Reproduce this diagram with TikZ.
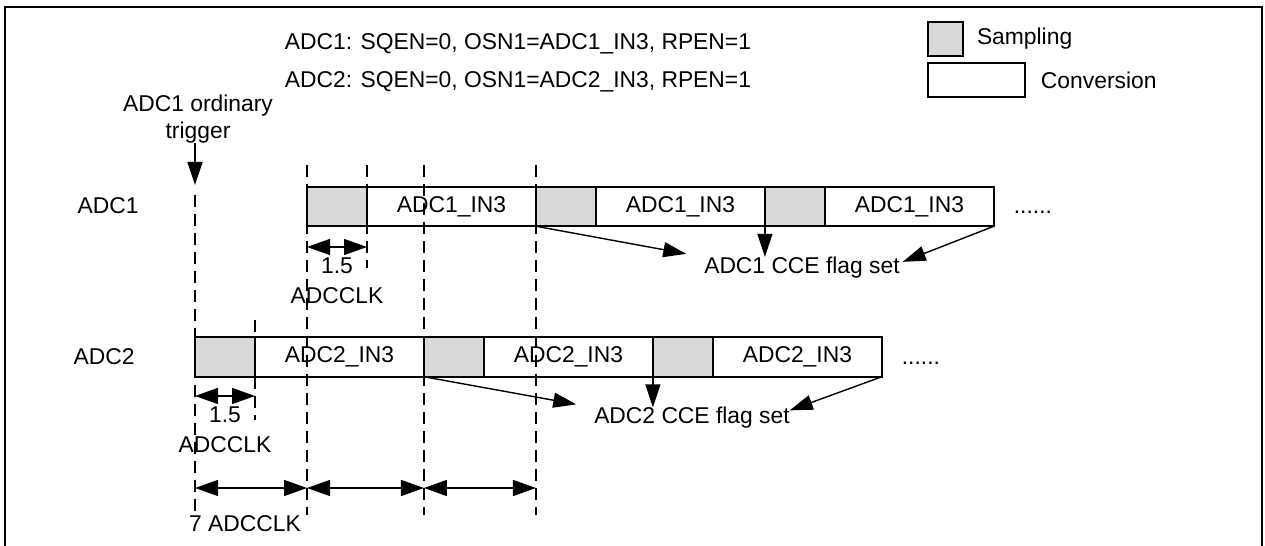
\documentclass[tikz,border=0pt]{standalone}
\usepackage{fontspec}
\setmainfont{Liberation Sans}
\usepackage{tikz}
\usepackage{xcolor}
\usetikzlibrary{positioning, calc, arrows.meta}

\definecolor{sampgray}{HTML}{D9D9D9}

\begin{document}
\begin{tikzpicture}[x=0.02cm, y=-0.02cm,
  every node/.style={font=\fontsize{13}{17}\selectfont, inner sep=0pt, outer sep=0pt},
  samp/.style={draw, line width=1pt, fill=sampgray, minimum width=1.2cm, minimum height=0.79cm},
  conv/.style={draw, line width=1pt, fill=white, minimum width=3.38cm, minimum height=0.79cm},
  guide/.style={line width=0.8pt, dash pattern=on 6.8pt off 4pt},
  flagarr/.style={-{Triangle[length=0.46cm, width=0.3cm]}, line width=0.8pt},
  dimarr/.style={{Triangle[length=0.46cm, width=0.32cm]}-{Triangle[length=0.46cm, width=0.32cm]}, line width=0.8pt}]
  \useasboundingbox (0,0) rectangle (1265,546);
  \draw[line width=1.2pt] (5,546) -- (5,7) -- (1262,7) -- (1262,546);

  % register settings and legend
  \node (cfg1) at (518,44) {ADC1: SQEN=0, OSN1=ADC1\_IN3, RPEN=1};
  \node (cfg2) at (518,82) {ADC2: SQEN=0, OSN1=ADC2\_IN3, RPEN=1};
  \node[samp, minimum width=0.7cm, minimum height=0.68cm] (legs) at (945.5,39) {};
  \node[right=0.28cm of legs] (legstxt) {Sampling};
  \node[conv, minimum width=1.94cm, minimum height=0.68cm] (legc) at (976.5,80) {};
  \node[right=0.32cm of legc] (legctxt) {Conversion};

  % ADC1 row
  \node (lbl1) at (108,206) {ADC1};
  \node[samp] (s11) at (337,206.5) {};
  \node[conv, right=0pt of s11] (c11) {ADC1\_IN3};
  \node[samp, right=0pt of c11] (s12) {};
  \node[conv, right=0pt of s12] (c12) {ADC1\_IN3};
  \node[samp, right=0pt of c12] (s13) {};
  \node[conv, right=0pt of s13] (c13) {ADC1\_IN3};
  \node[right=0.4cm of c13, yshift=-0.12cm] (more1) {......};

  % ADC2 row
  \node (lbl2) at (104,357) {ADC2};
  \node[samp] (s21) at (225,357) {};
  \node[conv, right=0pt of s21] (c21) {ADC2\_IN3};
  \node[samp, right=0pt of c21] (s22) {};
  \node[conv, right=0pt of s22] (c22) {ADC2\_IN3};
  \node[samp, right=0pt of c22] (s23) {};
  \node[conv, right=0pt of s23] (c23) {ADC2\_IN3};
  \node[right=0.4cm of c23, yshift=-0.12cm] (more2) {......};

  % trigger
  \node[align=center, font=\fontsize{13}{15}\selectfont] (trig) at (198,119) {ADC1 ordinary\\trigger};
  \coordinate (trg) at (195,185);
  \draw[flagarr] (trig.south -| trg) -- (trg);

  % guide lines
  \coordinate (dtop) at (0,165);
  \coordinate (dmid) at (0,268);
  \coordinate (dbot) at (0,515);
  \coordinate (d2top) at (0,320);
  \coordinate (d2bot) at (0,420);
  \draw[guide] ($(trg)+(0,10)$) -- (trg |- dbot);
  \draw[guide] (s11.west |- dtop) -- (s11.west |- dbot);
  \draw[guide] (c11.west |- dtop) -- (c11.west |- dmid);
  \draw[guide] (s22.west |- dtop) -- (s22.west |- dbot);
  \draw[guide] (s12.west |- dtop) -- (s12.west |- dbot);
  \draw[guide] (c21.west |- d2top) -- (c21.west |- d2bot);

  % CCE flags
  \node (flag1) at (802,267.5) {ADC1 CCE flag set};
  \draw[flagarr] (s12.south west) -- ($(flag1.north west)+(-18,-3)$);
  \draw[flagarr] (s13.south west) -- (s13.west |- flag1.north);
  \draw[flagarr] (c13.south east) -- ($(flag1.north east)+(3,5)$);
  \node (flag2) at (692,418) {ADC2 CCE flag set};
  \draw[flagarr] (s22.south west) -- ($(flag2.north west)+(-18,-3)$);
  \draw[flagarr] (s23.south west) -- (s23.west |- flag2.north);
  \draw[flagarr] (c23.south east) -- ($(flag2.north east)+(0,3)$);

  % sampling time
  \coordinate (d1) at (0,247);
  \coordinate (d2) at (0,396);
  \draw[dimarr] (s11.west |- d1) -- node[anchor=north, yshift=-0.22cm, align=center] (clk1) {1.5\\ADCCLK} (c11.west |- d1);
  \draw[dimarr] (s21.west |- d2) -- node[anchor=north, yshift=-0.22cm, align=center] (clk2) {1.5\\ADCCLK} (c21.west |- d2);

  % trigger delay
  \coordinate (base) at (0,488);
  \draw[dimarr] (s21.west |- base) -- node[anchor=north, yshift=-0.56cm, xshift=-0.12cm] (clk7) {7 ADCCLK} (s11.west |- base);
  \draw[dimarr] (s11.west |- base) -- (s22.west |- base);
  \draw[dimarr] (s22.west |- base) -- (s12.west |- base);
\end{tikzpicture}
\end{document}
